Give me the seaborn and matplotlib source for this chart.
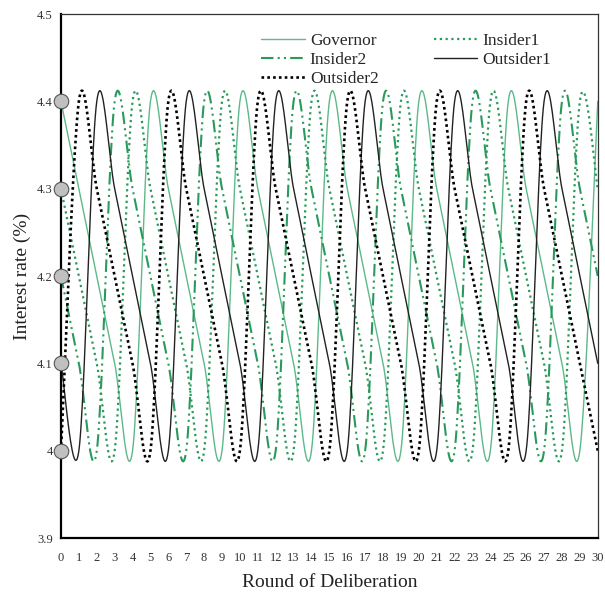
import numpy as np
import pandas as pd
import matplotlib
matplotlib.use("Agg")
import matplotlib.pyplot as plt
import seaborn as sns

# rounds of deliberation and each member's proposed rate
rounds = list(range(31))
governor = [4.4, 4.3, 4.2, 4.1, 4.0] * 6 + [4.4]
insider1 = [4.3, 4.2, 4.1, 4.0, 4.4] * 6 + [4.3]
insider2 = [4.2, 4.1, 4.0, 4.4, 4.3] * 6 + [4.2]
outsider1 = [4.1, 4.0, 4.4, 4.3, 4.2] * 6 + [4.1]
outsider2 = [4.0, 4.4, 4.3, 4.2, 4.1] * 6 + [4.0]
start_values = [4.0, 4.1, 4.2, 4.3, 4.4]
x_ticks = list(range(31))
y_ticks = [3.9, 4.0, 4.1, 4.2, 4.3, 4.4, 4.5]
y_tick_labels = ["3.9", "4", "4.1", "4.2", "4.3", "4.4", "4.5"]


def smooth(x, y, n=24):
    # Catmull-Rom curve through the points, like a spreadsheet "smoothed line"
    x = np.asarray(x, float)
    y = np.asarray(y, float)
    px = np.concatenate([[x[0]], x, [x[-1]]])
    py = np.concatenate([[y[0]], y, [y[-1]]])
    t = np.linspace(0, 1, n, endpoint=False)
    xs, ys = [], []
    for i in range(1, len(px) - 2):
        for p, out in ((px, xs), (py, ys)):
            p0, p1, p2, p3 = p[i - 1], p[i], p[i + 1], p[i + 2]
            out.append(0.5 * (2 * p1 + (-p0 + p2) * t
                              + (2 * p0 - 5 * p1 + 4 * p2 - p3) * t ** 2
                              + (-p0 + 3 * p1 - 3 * p2 + p3) * t ** 3))
    xs.append([x[-1]])
    ys.append([y[-1]])
    return np.concatenate(xs), np.concatenate(ys)


sns.set_style("white")
plt.rcParams["font.family"] = ["Liberation Serif", "DejaVu Serif"]

fig = plt.figure(figsize=(6.05, 5.99), dpi=100)
ax = fig.add_axes([0.1008, 0.1018, 0.8872, 0.8748])

light_green = "#5cb98a"
dark_green = "#2a9a5c"

series = [
    ("Governor", governor, light_green, 1.0, None),
    ("Insider1", insider1, dark_green, 1.6, (1, 1.6)),
    ("Insider2", insider2, dark_green, 1.5, (6, 2, 1, 2, 1, 2)),
    ("Outsider1", outsider1, "#222222", 1.0, None),
    ("Outsider2", outsider2, "black", 1.9, (1, 1.2)),
]

handles = {}
for name, vals, color, lw, dash in series:
    sx, sy = smooth(rounds, vals)
    df = pd.DataFrame({"Round": sx, "Rate": sy})
    sns.lineplot(data=df, x="Round", y="Rate", ax=ax, color=color, linewidth=lw,
                 sort=False, estimator=None, label=name)
    line = ax.lines[-1]
    if dash is not None:
        line.set_dashes(dash)
    handles[name] = line

ax.scatter([0] * len(start_values), start_values, s=110, color="#c0c0c0",
           edgecolor="#555555", linewidth=0.8, zorder=5, clip_on=False)

ax.set_xlim(0, 30)
ax.set_ylim(3.9, 4.5)
ax.set_xticks(x_ticks)
ax.set_xticklabels([str(v) for v in x_ticks], fontsize=9, color="#333333")
ax.set_yticks(y_ticks)
ax.set_yticklabels(y_tick_labels, fontsize=9, color="#333333")
ax.tick_params(axis="both", direction="out", length=4, width=1, color="#333333")
ax.tick_params(axis="x", pad=6)
ax.tick_params(axis="y", pad=2)

for side in ["left", "bottom"]:
    ax.spines[side].set_linewidth(1.6)
    ax.spines[side].set_color("black")
for side in ["top", "right"]:
    ax.spines[side].set_linewidth(0.9)
    ax.spines[side].set_color("#333333")

ax.set_xlabel("Round of Deliberation", fontsize=14, color="#222222", labelpad=7)
ax.set_ylabel("Interest rate (%)", fontsize=14, color="#222222", labelpad=4)

order = ["Governor", "Insider2", "Outsider2", "Insider1", "Outsider1"]
ax.legend([handles[k] for k in order], order, ncol=2, frameon=False,
          loc="upper left", bbox_to_anchor=(0.36, 0.977), fontsize=12.5,
          handlelength=2.5, handletextpad=0.3, columnspacing=3.2,
          labelspacing=0.15, borderaxespad=0)

fig.savefig("out.png", dpi=100)
